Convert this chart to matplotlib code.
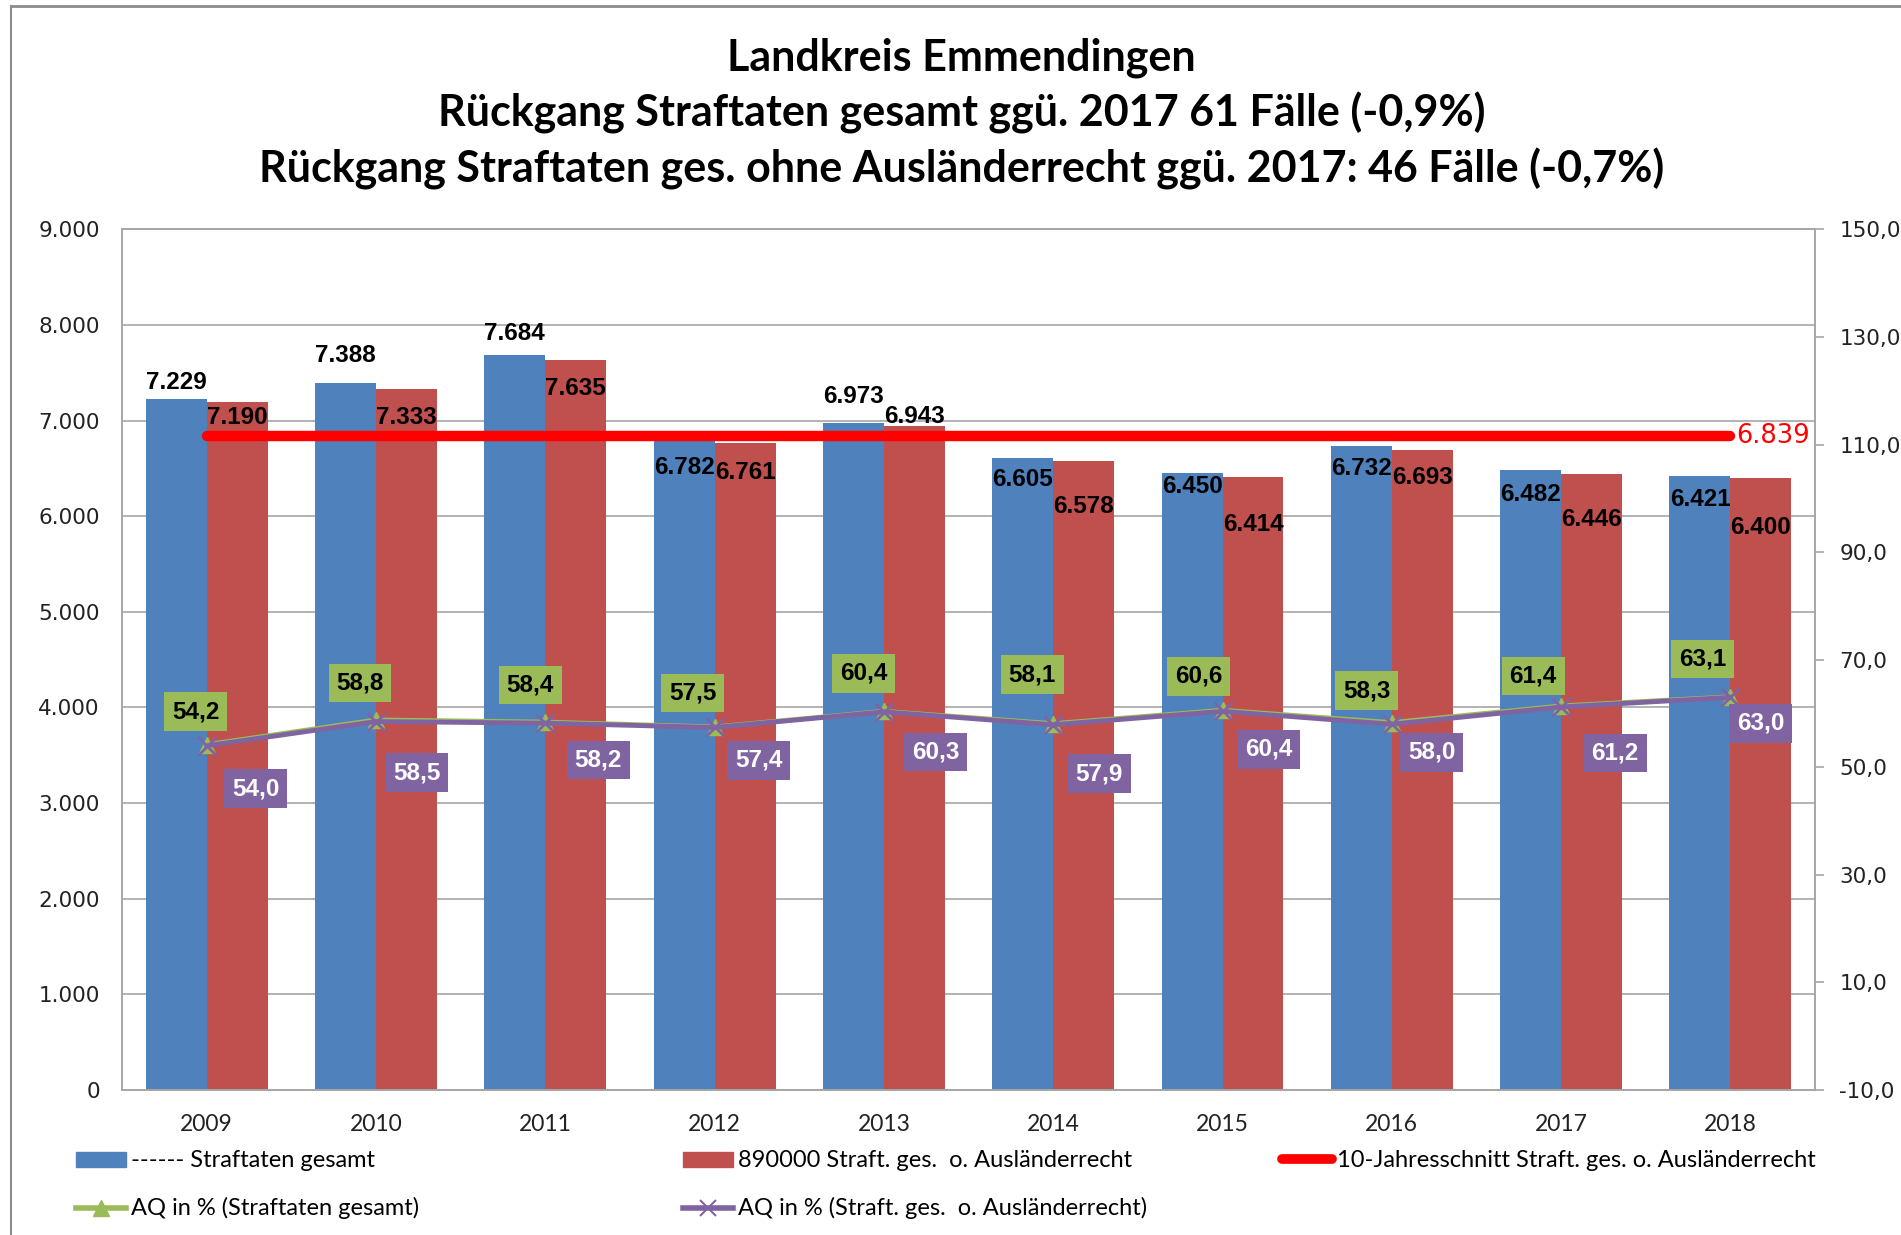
import matplotlib
matplotlib.use("Agg")
import matplotlib.pyplot as plt
from matplotlib.lines import Line2D
from matplotlib.patches import Patch
import numpy as np

# data
years = ["2009", "2010", "2011", "2012", "2013", "2014", "2015", "2016", "2017", "2018"]
straftaten_gesamt = [7229, 7388, 7684, 6782, 6973, 6605, 6450, 6732, 6482, 6421]
straftaten_ohne_ar = [7190, 7333, 7635, 6761, 6943, 6578, 6414, 6693, 6446, 6400]
schnitt_10j = 6839
aq_gesamt = [54.2, 58.8, 58.4, 57.5, 60.4, 58.1, 60.6, 58.3, 61.4, 63.1]
aq_ohne_ar = [54.0, 58.5, 58.2, 57.4, 60.3, 57.9, 60.4, 58.0, 61.2, 63.0]

# label placement (pixels, positive = below the mark)
off_blue = [-16, -28, -22, 26, -27, 21, 13, 22, 24, 24]
off_red = [15, 29, 29, 29, -10, 46, 48, 28, 46, 50]
off_green = [(-11, -33), (-16, -37), (-15, -37), (-22, -34), (-20, -38),
             (-21, -49), (-24, -34), (-25, -32), (-28, -30), (-28, -38)]
off_purple = [(49, 43), (41, 51), (53, 37), (44, 33), (52, 40),
              (46, 49), (46, 38), (40, 28), (54, 46), (30, 26)]

BLUE = "#4F81BD"
RED = "#C0504D"
GREEN = "#9BBB59"
PURPLE = "#8064A2"
GRID = "#A6A6A6"

def de_int(v):
    return f"{v:,}".replace(",", ".")

def de_dec(v):
    return f"{v:.1f}".replace(".", ",")

fig = plt.figure(figsize=(19.01, 12.35), dpi=100)
ax = fig.add_axes([0.0642, 0.1174, 0.8906, 0.6969])
ax2 = ax.twinx()

x = np.arange(len(years))
w = 0.36

ax.bar(x - w / 2, straftaten_gesamt, w, color=BLUE, zorder=2)
ax.bar(x + w / 2, straftaten_ohne_ar, w, color=RED, zorder=2)
ax.plot(x, [schnitt_10j] * len(x), color="#FF0000", lw=7.5,
        solid_capstyle="round", zorder=3)
ax.annotate(de_int(schnitt_10j), (x[-1], schnitt_10j), xytext=(6, 0),
            textcoords="offset pixels", ha="left", va="center",
            color="#FF0000", fontsize=18.5, family="DejaVu Sans", zorder=5)

lab_font = dict(family="Liberation Sans", weight="bold", fontsize=17.5)
for i in range(len(x)):
    ax.annotate(de_int(straftaten_gesamt[i]), (x[i] - w / 2, straftaten_gesamt[i]),
                xytext=(0, -off_blue[i]), textcoords="offset pixels",
                ha="center", va="center", zorder=5, **lab_font)
    ax.annotate(de_int(straftaten_ohne_ar[i]), (x[i] + w / 2, straftaten_ohne_ar[i]),
                xytext=(0, -off_red[i]), textcoords="offset pixels",
                ha="center", va="center", zorder=5, **lab_font)

ax.set_xlim(-0.5, len(x) - 0.5)
ax.set_ylim(0, 9000)
ax.set_yticks(range(0, 9001, 1000))
ax.set_yticklabels([de_int(v) for v in range(0, 9001, 1000)],
                   family="DejaVu Sans", fontsize=15.5, color="#222222")
ax.set_xticks(x)
ax.set_xticklabels(years, family="Lato", fontsize=16.5, color="#222222")
ax.tick_params(axis="x", length=0, pad=17)
ax.tick_params(axis="y", length=0, pad=16)
ax.yaxis.grid(True, color=GRID, lw=1.2)
ax.set_axisbelow(True)

# second axis: AQ
ax2.plot(x, aq_gesamt, color=GREEN, lw=3.5, marker="^", markersize=12, zorder=3)
ax2.plot(x, aq_ohne_ar, color=PURPLE, lw=3.5, marker="x", markersize=13,
         markeredgewidth=2, zorder=4)
for i in range(len(x)):
    ax2.annotate(de_dec(aq_gesamt[i]), (x[i], aq_gesamt[i]),
                 xytext=(off_green[i][0], -off_green[i][1]), textcoords="offset pixels",
                 ha="center", va="center", color="black", zorder=6,
                 bbox=dict(boxstyle="square,pad=0.32", fc=GREEN, ec="none"), **lab_font)
    ax2.annotate(de_dec(aq_ohne_ar[i]), (x[i], aq_ohne_ar[i]),
                 xytext=(off_purple[i][0], -off_purple[i][1]), textcoords="offset pixels",
                 ha="center", va="center", color="white", zorder=6,
                 bbox=dict(boxstyle="square,pad=0.32", fc=PURPLE, ec="none"), **lab_font)

ax2.set_ylim(-10, 150)
ax2.set_yticks(range(-10, 151, 20))
ax2.set_yticklabels([de_dec(v) for v in range(-10, 151, 20)],
                    family="DejaVu Sans", fontsize=15.5, color="#222222")
ax2.tick_params(axis="y", length=6.5, width=1.2, color=GRID, pad=11)

for a in (ax, ax2):
    for s in a.spines.values():
        s.set_color(GRID)
        s.set_linewidth(1.2)

# title
title_lines = ["Landkreis Emmendingen",
               "Rückgang Straftaten gesamt ggü. 2017 61 Fälle (-0,9%)",
               "Rückgang Straftaten ges. ohne Ausländerrecht ggü. 2017: 46 Fälle (-0,7%)"]
for k, t in enumerate(title_lines):
    fig.text(0.5058, 1 - (70 + 56 * k) / 1235, t, ha="center", va="baseline",
             family="Lato", weight="bold", fontsize=31)

# legend, three columns
leg_kw = dict(loc="upper left", frameon=False, borderpad=0, borderaxespad=0,
              prop={"family": "Lato", "size": 17}, handlelength=2.1,
              handleheight=0.6, handletextpad=0.22, labelspacing=1.1)
fig.legend([Patch(color=BLUE), Line2D([], [], color=GREEN, lw=4, marker="^", markersize=12)],
           ["------ Straftaten gesamt", "AQ in % (Straftaten gesamt)"],
           bbox_to_anchor=(0.040, 0.0685), **leg_kw)
fig.legend([Patch(color=RED), Line2D([], [], color=PURPLE, lw=4, marker="x",
                                     markersize=12, markeredgewidth=1.5)],
           ["890000 Straft. ges.  o. Ausländerrecht", "AQ in % (Straft. ges.  o. Ausländerrecht)"],
           bbox_to_anchor=(0.3593, 0.0685), **leg_kw)
fig.legend([Line2D([], [], color="#FF0000", lw=7, solid_capstyle="round")],
           ["10-Jahresschnitt Straft. ges. o. Ausländerrecht"],
           bbox_to_anchor=(0.6744, 0.0685), **leg_kw)

# chart frame (top and left edges visible)
fig.add_artist(Line2D([11 / 1901, 1], [1 - 6 / 1235, 1 - 6 / 1235],
                      transform=fig.transFigure, color="#8C8C8C", lw=2))
fig.add_artist(Line2D([11 / 1901, 11 / 1901], [0, 1 - 6 / 1235],
                      transform=fig.transFigure, color="#8C8C8C", lw=1.5))

fig.savefig("out.png", dpi=100)
